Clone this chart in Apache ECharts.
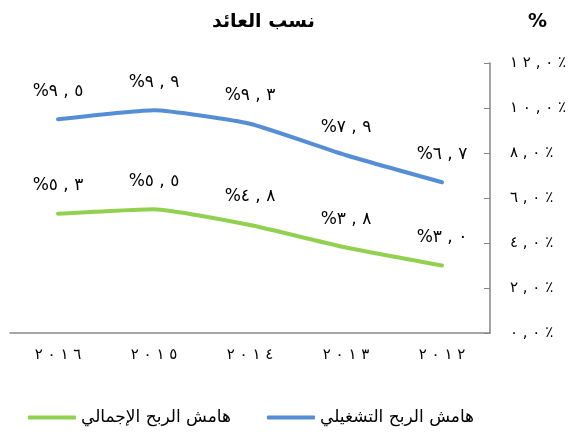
<!DOCTYPE html>
<html>
<head>
<meta charset="utf-8">
<script src="https://cdn.jsdelivr.net/npm/echarts@6/dist/echarts.min.js"></script>
<style>
  html, body { margin: 0; padding: 0; background: #fff; }
  #chart { width: 573px; height: 436px; }
</style>
</head>
<body>
<div id="chart"></div>
<script>
  // years as displayed, left to right
  var years = ['٢٠١٦', '٢٠١٥', '٢٠١٤', '٢٠١٣', '٢٠١٢'];
  var operatingMargin = [9.5, 9.9, 9.3, 7.9, 6.7];
  var grossMargin = [5.3, 5.5, 4.8, 3.8, 3.0];
  var seriesNames = ['هامش الربح التشغيلي', 'هامش الربح الإجمالي'];
  var chartTitle = 'نسب العائد';

  var digits = '٠١٢٣٤٥٦٧٨٩';
  var LRM = '\u200E';
  function toArabic(s) {
    return String(s).replace(/[0-9]/g, function (d) { return digits[+d]; });
  }
  // keep visual left-to-right order while spreading the characters
  function spaced(s) {
    return s.split('').map(function (c) { return LRM + c; }).join(' ');
  }
  function fmt(v) {
    var t = toArabic(v.toFixed(1)).split('.');
    return spaced(t[0]) + ' ' + LRM + ',' + ' ' + spaced(t[1]);
  }

  var chartDom = document.getElementById('chart');
  var myChart = echarts.init(chartDom);
  var font = '"DejaVu Sans", sans-serif';

  function lineSeries(name, data, color) {
    return {
      name: name,
      type: 'line',
      data: data,
      smooth: 0.15,
      symbol: 'circle',
      symbolSize: 1,
      lineStyle: { color: color, width: 4, cap: 'round' },
      itemStyle: { color: color },
      label: {
        show: true, position: 'top', distance: 19,
        fontFamily: font, fontSize: 17, color: '#000',
        formatter: function (p) { return '%' + fmt(p.value); }
      }
    };
  }

  var option = {
    animation: false,
    graphic: [
      { type: 'text', left: 212, top: 13,
        style: { text: chartTitle, font: 'bold 19px ' + font, fill: '#000' } },
      { type: 'text', left: 528, top: 13,
        style: { text: '%', font: 'bold 19px ' + font, fill: '#000' } }
    ],
    legend: {
      bottom: 5,
      left: 23,
      itemWidth: 48,
      itemHeight: 4,
      itemGap: 36,
      icon: 'roundRect',
      data: [seriesNames[1], seriesNames[0]],
      textStyle: { fontFamily: font, fontSize: 17, color: '#000' }
    },
    grid: { left: 10, right: 83, top: 63, bottom: 103 },
    xAxis: {
      type: 'category',
      data: years,
      boundaryGap: true,
      axisLine: { lineStyle: { color: '#868686', width: 1.5 } },
      axisTick: { length: 6, lineStyle: { color: '#868686' } },
      axisLabel: {
        fontFamily: font, fontSize: 15, color: '#000', margin: 15,
        formatter: function (v) { return spaced(v); }
      }
    },
    yAxis: {
      type: 'value',
      position: 'right',
      min: 0,
      max: 12,
      interval: 2,
      axisLine: { show: true, lineStyle: { color: '#868686', width: 1.5 } },
      axisTick: { show: true, inside: true, length: 6, lineStyle: { color: '#868686' } },
      splitLine: { show: false },
      axisLabel: {
        fontFamily: font, fontSize: 15, color: '#000', margin: 20,
        formatter: function (v) { return fmt(v) + ' ' + LRM + '٪'; }
      }
    },
    series: [
      lineSeries(seriesNames[0], operatingMargin, '#558ED5'),
      lineSeries(seriesNames[1], grossMargin, '#92D050')
    ]
  };
  option && myChart.setOption(option);
</script>
</body>
</html>
